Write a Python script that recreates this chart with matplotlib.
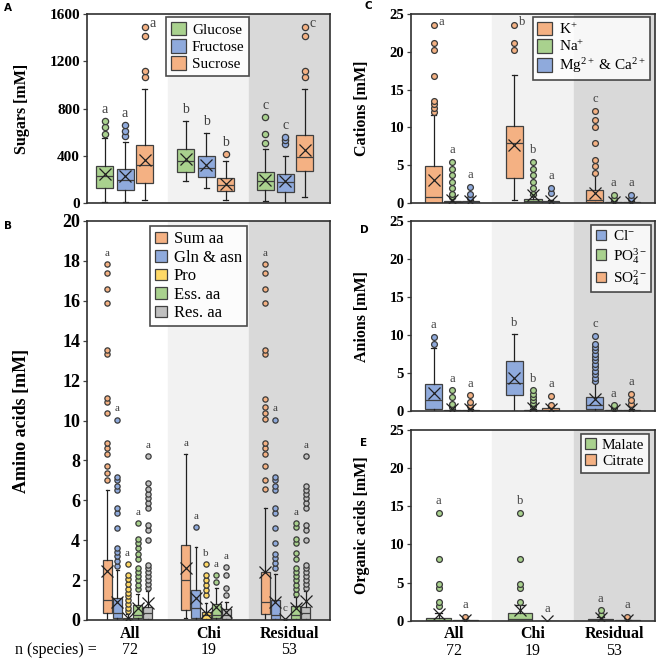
import matplotlib
matplotlib.use('Agg')
import matplotlib.pyplot as plt
from matplotlib.patches import Patch

plt.rcParams['font.family'] = ['Liberation Serif', 'DejaVu Serif']
plt.rcParams['mathtext.fontset'] = 'custom'
plt.rcParams['mathtext.rm'] = 'Liberation Serif'
plt.rcParams['mathtext.it'] = 'Liberation Serif:italic'
plt.rcParams['mathtext.bf'] = 'Liberation Serif:bold'
plt.rcParams['mathtext.default'] = 'rm'

groups = ['All', 'Chi', 'Residual']
n_species = [72, 19, 53]

# box stats per group: [whislo, q1, med, q3, whishi, mean]
# --- A: sugars [mM]
glucose_box = [[10, 127, 225, 310, 550, 245], [183, 259, 358, 456, 690, 372], [14, 113, 183, 259, 456, 191]]
glucose_out = [[580, 640, 690], [], [510, 580, 725]]
glucose_sig = ['a', 'b', 'c']
fructose_box = [[5, 113, 197, 287, 513, 225], [127, 220, 300, 394, 592, 324], [0, 90, 175, 248, 400, 183]]
fructose_out = [[565, 610, 660], [], [500, 530, 560]]
fructose_sig = ['a', 'b', 'c']
sucrose_box = [[28, 169, 318, 493, 966, 366], [28, 99, 155, 211, 352, 160], [50, 268, 386, 577, 966, 445]]
sucrose_out = [[1070, 1120, 1410, 1490], [414], [1070, 1120, 1410, 1490]]
sucrose_sig = ['a', 'b', 'c']

# --- B: amino acids [mM]
sumaa_box = [[0, 0.33, 1.0, 3.0, 6.5, 2.47], [0.08, 0.5, 2.0, 3.76, 8.3, 2.6], [0, 0.3, 0.9, 2.42, 5.6, 2.42]]
sumaa_out = [[7.02, 7.38, 7.72, 8.32, 8.6, 8.89, 10.4, 10.95, 11.15, 13.33, 13.53, 15.87, 16.6, 17.4, 17.83],
             [],
             [6.55, 7.02, 7.72, 8.32, 8.6, 8.89, 10.1, 10.4, 10.7, 11.1, 13.33, 13.53, 15.87, 16.6, 17.4, 17.83]]
sumaa_sig = ['a', 'a', 'a']
glnasn_box = [[0, 0.08, 0.37, 1.09, 2.5, 0.92], [0, 0.08, 0.58, 1.5, 3.65, 1.08], [0, 0.03, 0.25, 1.0, 2.3, 0.92]]
glnasn_out = [[2.7, 2.95, 3.2, 3.4, 3.6, 4.6, 5.35, 5.6, 6.5, 6.7, 7.0, 7.15, 10.05],
              [4.65],
              [2.6, 2.85, 3.1, 3.3, 3.85, 4.6, 5.35, 5.6, 6.5, 6.7, 7.0, 7.15, 10.05]]
glnasn_sig = ['a', 'a', 'a']
pro_box = [[0, 0, 0.02, 0.1, 0.3, 0.12], [0, 0.03, 0.25, 0.42, 0.85, 0.33], [0, 0, 0.02, 0.05, 0.05, 0.03]]
pro_out = [[0.45, 0.6, 0.8, 1.0, 1.2, 1.35, 1.55, 1.8, 2.05, 2.25, 2.8],
           [1.25, 1.5, 1.75, 2.0, 2.25, 2.8],
           []]
pro_sig = ['a', 'b', 'c']
essaa_box = [[0, 0.08, 0.25, 0.75, 1.3, 0.58], [0, 0.08, 0.25, 0.8, 1.6, 0.67], [0, 0.03, 0.25, 0.7, 1.15, 0.6]]
essaa_out = [[1.55, 1.75, 2.0, 2.2, 2.4, 2.6, 3.05, 3.3, 3.6, 3.85, 4.05, 4.85],
             [1.9, 2.25],
             [1.3, 1.55, 1.75, 2.0, 2.2, 2.4, 2.6, 3.05, 3.35, 3.85, 4.05, 4.65, 4.85]]
essaa_sig = ['a', 'a', 'a']
resaa_box = [[0, 0.03, 0.33, 0.67, 1.45, 0.87], [0, 0.03, 0.25, 0.53, 0.9, 0.42], [0, 0.03, 0.37, 0.67, 1.45, 0.97]]
resaa_out = [[1.6, 1.8, 2.0, 2.2, 2.4, 2.6, 2.75, 4.0, 4.5, 4.75, 5.6, 5.85, 6.1, 6.3, 6.55, 6.85, 8.2],
             [1.25, 1.6, 2.25, 2.65],
             [1.6, 1.8, 2.0, 2.2, 2.4, 2.6, 2.75, 4.0, 4.5, 4.75, 5.6, 5.85, 6.1, 6.3, 6.5, 6.7, 8.2]]
resaa_sig = ['a', 'a', 'a']

# --- C: cations [mM]
k_box = [[0, 0.05, 0.85, 4.86, 11.7, 3.1], [0.35, 3.3, 7.95, 10.15, 16.9, 7.73], [0, 0.1, 0.44, 1.68, 3.8, 1.3]]
k_out = [[12.0, 12.6, 13.1, 13.5, 16.8, 20.2, 21.2, 23.5], [20.3, 21.2, 23.5], [4.0, 4.9, 5.7, 7.9, 10.05, 11.0, 12.15]]
k_sig = ['a', 'b', 'c']
na_box = [[0, 0.02, 0.1, 0.3, 0.6, 0.35], [0, 0.05, 0.2, 0.55, 1.0, 1.0], [0, 0, 0.05, 0.15, 0.3, 0.1]]
na_out = [[0.8, 1.2, 2.0, 2.8, 3.7, 4.5, 5.45], [1.2, 2.0, 2.8, 3.7, 4.5, 5.45], [0.55, 1.1]]
na_sig = ['a', 'b', 'a']
mgca_box = [[0, 0, 0.05, 0.2, 0.4, 0.2], [0, 0, 0.05, 0.2, 0.4, 0.2], [0, 0, 0.05, 0.15, 0.3, 0.15]]
mgca_out = [[0.6, 1.2, 2.1], [1.3, 2.05], [0.55, 1.1]]
mgca_sig = ['a', 'a', 'a']

# --- D: anions [mM]
cl_box = [[0, 0.3, 1.4, 3.6, 8.3, 2.37], [0, 2.06, 3.7, 6.6, 10.1, 4.35], [0, 0.22, 0.75, 1.85, 3.8, 1.6]]
cl_out = [[8.8, 9.75], [], [3.95, 4.4, 4.85, 5.3, 5.75, 6.2, 6.65, 7.1, 7.55, 8.0, 8.4, 8.85, 9.9]]
cl_sig = ['a', 'b', 'c']
po4_box = [[0, 0, 0.03, 0.1, 0.25, 0.2], [0, 0, 0.05, 0.15, 0.3, 0.35], [0, 0, 0.02, 0.08, 0.2, 0.1]]
po4_out = [[0.5, 0.95, 1.85, 2.7], [0.6, 1.0, 1.45, 1.9, 2.3, 2.75], [0.45, 0.8]]
po4_sig = ['a', 'b', 'a']
so4_box = [[0, 0, 0.05, 0.15, 0.3, 0.2], [0, 0.02, 0.1, 0.4, 0.5, 0.3], [0, 0, 0.05, 0.12, 0.25, 0.2]]
so4_out = [[0.6, 1.2, 2.05], [0.8, 2.0], [0.9, 1.5, 2.3]]
so4_sig = ['a', 'a', 'a']

# --- E: organic acids [mM]
malate_box = [[0, 0, 0.1, 0.4, 1.0, 0.85], [0, 0, 0.2, 1.05, 2.0, 1.4], [0, 0, 0.05, 0.25, 0.5, 0.3]]
malate_out = [[1.9, 2.5, 4.25, 4.8, 8.15, 14.15], [2.5, 4.25, 4.8, 8.15, 14.15], [0.75, 1.35]]
malate_sig = ['a', 'b', 'a']
citrate_box = [[0, 0, 0.02, 0.08, 0.15, 0.15], [0, 0, 0, 0, 0, 0], [0, 0, 0.02, 0.08, 0.15, 0.15]]
citrate_out = [[0.55], [], [0.55]]
citrate_sig = ['a', 'a', 'a']

GREEN = '#a9d18e'
BLUE = '#8faadc'
ORANGE = '#f4b183'
YELLOW = '#ffd966'
GREY = '#bfbfbf'
EDGE = '#404040'


def draw_panel(ax, series, colors, centers, offsets, width, ymax, step,
               pad, fs_tick, flier_ms, mean_ms, sig_fs):
    ax.axvspan(1, 2, color='#f2f2f2', zorder=0)
    ax.axvspan(2, 3, color='#d9d9d9', zorder=0)
    for i, (box, out, sig) in enumerate(series):
        for g in range(3):
            pos = centers[g] + offsets[i]
            lo, q1, med, q3, hi, mean = box[g]
            st = dict(whislo=lo, q1=q1, med=med, q3=q3, whishi=hi, mean=mean, fliers=out[g])
            ax.bxp([st], positions=[pos], widths=width, showmeans=True, patch_artist=True,
                   capwidths=width * 0.3,
                   boxprops=dict(facecolor=colors[i], edgecolor=EDGE, linewidth=0.9),
                   medianprops=dict(color=EDGE, linewidth=0.9),
                   whiskerprops=dict(color='#202020', linewidth=0.9),
                   capprops=dict(color='#202020', linewidth=0.9),
                   meanprops=dict(marker='x', markeredgecolor='#202020', markersize=mean_ms, markeredgewidth=0.9),
                   flierprops=dict(marker='o', markerfacecolor=colors[i], markeredgecolor='#3a3a3a',
                                   markersize=flier_ms, markeredgewidth=0.9))
            top = max(out[g] + [hi])
            if top + pad > ymax * 0.97:
                ax.text(pos + 0.06, top + pad * 0.3, sig[g], fontsize=sig_fs, color='#404040',
                        ha='left', va='center')
            else:
                ax.text(pos, top + pad, sig[g], fontsize=sig_fs, color='#404040',
                        ha='center', va='center')
    ax.set_xlim(0, 3)
    ax.set_ylim(0, ymax)
    ax.set_yticks(range(0, ymax + 1, step))
    ax.set_xticks([])
    ax.tick_params(axis='y', length=3, width=0.9, color='#404040', pad=2, labelsize=fs_tick)
    for lab in ax.get_yticklabels():
        lab.set_fontweight('bold')
    for sp in ax.spines.values():
        sp.set_color('#303030')
        sp.set_linewidth(1.2)
    return [Patch(facecolor=c, edgecolor=EDGE, linewidth=0.9) for c in colors]


def bottom_labels(ax, fs):
    ax.set_xticks([0.53, 1.5, 2.5])
    ax.set_xticklabels(groups, fontweight='bold', fontsize=fs)
    ax.tick_params(axis='x', length=0, pad=4)
    for x, n in zip([0.53, 1.5, 2.5], n_species):
        ax.annotate(str(n), xy=(x, 0), xycoords=('data', 'axes fraction'), xytext=(0, -21.5),
                    textcoords='offset points', ha='center', va='center', fontsize=fs)


def add_legend(ax, handles, labels, fs, hl, **kw):
    lg = ax.legend(handles, labels, frameon=True, fancybox=False, handlelength=hl, handleheight=hl,
                   handletextpad=0.4, borderpad=0.3, labelspacing=0.15, borderaxespad=0,
                   fontsize=fs, **kw)
    lg.get_frame().set_edgecolor('#202020')
    lg.get_frame().set_linewidth(1.2)


fig = plt.figure(figsize=(6.66, 6.66), dpi=100)

def add_axes(l, t, r, b):
    return fig.add_axes([l / 666, 1 - b / 666, (r - l) / 666, (b - t) / 666])

axA = add_axes(87, 14, 330, 203)
axB = add_axes(87, 221, 330, 620)
axC = add_axes(411, 14, 655, 203)
axD = add_axes(411, 221, 655, 411)
axE = add_axes(411, 430, 655, 620.7)

# A
h = draw_panel(axA, [(glucose_box, glucose_out, glucose_sig), (fructose_box, fructose_out, fructose_sig),
                     (sucrose_box, sucrose_out, sucrose_sig)],
               [GREEN, BLUE, ORANGE],
               [0.47, 1.47, 2.45], [-0.25, 0, 0.24], 0.21, 1600, 400, 100, 11, 4.5, 9, 10)
axA.set_ylabel('Sugars [mM]', fontsize=11.5, fontweight='bold')
axA.yaxis.set_label_coords(-0.235, 0.5)
add_legend(axA, h, ['Glucose', 'Fructose', 'Sucrose'], 11, 1.0,
           loc='upper left', bbox_to_anchor=(0.325, 0.984))

# B
h = draw_panel(axB, [(sumaa_box, sumaa_out, sumaa_sig), (glnasn_box, glnasn_out, glnasn_sig),
                     (pro_box, pro_out, pro_sig), (essaa_box, essaa_out, essaa_sig),
                     (resaa_box, resaa_out, resaa_sig)],
               [ORANGE, BLUE, YELLOW, GREEN, GREY],
               [0.5, 1.47, 2.45], [-0.25, -0.125, 0, 0.125, 0.25], 0.11, 20, 2, 0.55, 13, 3.8, 8, 8)
axB.set_ylabel('Amino acids [mM]', fontsize=13, fontweight='bold')
axB.yaxis.set_label_coords(-0.235, 0.5)
add_legend(axB, h, ['Sum aa', 'Gln & asn', 'Pro', 'Ess. aa', 'Res. aa'], 12, 0.7,
           loc='upper left', bbox_to_anchor=(0.26, 0.987))
bottom_labels(axB, 11.5)

# C
h = draw_panel(axC, [(k_box, k_out, k_sig), (na_box, na_out, na_sig), (mgca_box, mgca_out, mgca_sig)],
               [ORANGE, GREEN, BLUE],
               [0.51, 1.5, 2.49], [-0.23, 0, 0.22], 0.21, 25, 5, 1.55, 10.5, 4.2, 8, 9)
axC.set_ylabel('Cations [mM]', fontsize=11.5, fontweight='bold')
axC.yaxis.set_label_coords(-0.168, 0.5)
add_legend(axC, h, ['K$^{+}$', 'Na$^{+}$', 'Mg$^{2+}$ & Ca$^{2+}$'], 11, 1.0,
           loc='upper right', bbox_to_anchor=(0.98, 0.984))

# D
h = draw_panel(axD, [(cl_box, cl_out, cl_sig), (po4_box, po4_out, po4_sig), (so4_box, so4_out, so4_sig)],
               [BLUE, GREEN, ORANGE],
               [0.51, 1.5, 2.49], [-0.23, 0, 0.22], 0.21, 25, 5, 1.5, 10.5, 4.2, 8, 9)
axD.set_ylabel('Anions [mM]', fontsize=11.5, fontweight='bold')
axD.yaxis.set_label_coords(-0.168, 0.5)
add_legend(axD, h, ['Cl$^{-}$', 'PO$_{4}^{3-}$', 'SO$_{4}^{2-}$'], 11, 0.7,
           loc='upper right', bbox_to_anchor=(0.984, 0.98))

# E
h = draw_panel(axE, [(malate_box, malate_out, malate_sig), (citrate_box, citrate_out, citrate_sig)],
               [GREEN, ORANGE],
               [0.5, 1.5, 2.49], [-0.16, 0.17], 0.3, 25, 5, 1.55, 10.5, 4.2, 8, 9)
axE.set_ylabel('Organic acids [mM]', fontsize=11.5, fontweight='bold')
axE.yaxis.set_label_coords(-0.168, 0.5)
add_legend(axE, h, ['Malate', 'Citrate'], 11, 0.7,
           loc='upper right', bbox_to_anchor=(0.975, 0.98))
bottom_labels(axE, 11.5)

fig.text(56 / 666, 1 - 650 / 666, 'n (species) =', ha='center', va='center', fontsize=11.5)
for lbl, (x, y) in zip('ABCDE', [(8, 8), (8, 226), (368, 6), (364, 230), (364, 443)]):
    fig.text(x / 666, 1 - y / 666, lbl, ha='center', va='center', fontsize=7.5, fontweight='bold',
             family='DejaVu Sans')

fig.savefig('out.png', dpi=100)
